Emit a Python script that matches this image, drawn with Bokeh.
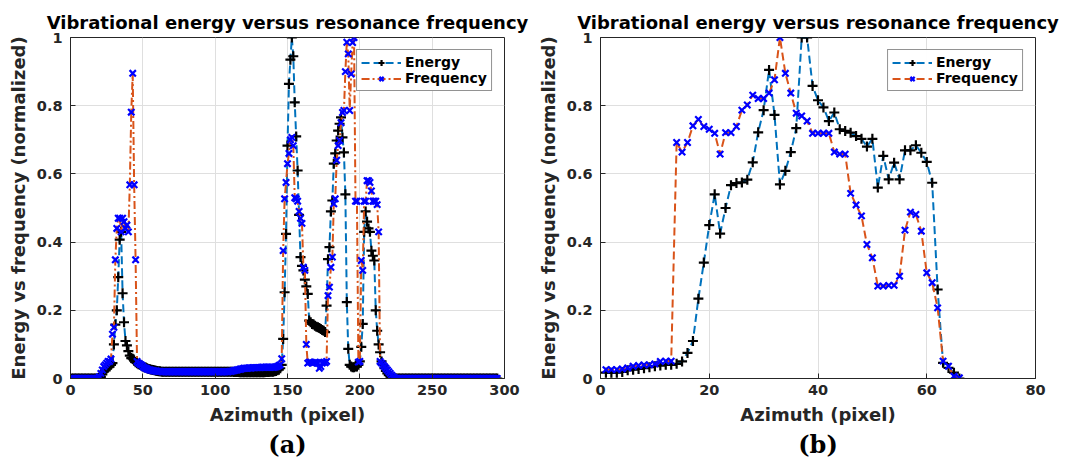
from bokeh.plotting import figure
from bokeh.layouts import row
from bokeh.models import (Legend, LegendItem, FixedTicker, Title, Range1d,
                          CustomJSTickFormatter)
from bokeh.embed import file_html
from bokeh.resources import INLINE

# ---------------- text ----------------
TITLE = "Vibrational energy versus resonance frequency"
XLABEL = "Azimuth (pixel)"
YLABEL = "Energy vs frequency (normalized)"
PANEL_A = "(a)"
PANEL_B = "(b)"
LEGEND_LABELS = ["Energy", "Frequency"]

# ---------------- ticks ----------------
y_ticks = [0, 0.2, 0.4, 0.6, 0.8, 1]
a_x_ticks = [0, 50, 100, 150, 200, 250, 300]
b_x_ticks = [0, 20, 40, 60, 80]
a_x_max = 300
b_x_max = 80

# ---------------- data (a): one value per azimuth pixel 1..295 ----------------
a_energy = [
    0, 0, 0, 0, 0, 0, 0, 0, 0, 0,
    0, 0, 0, 0, 0, 0, 0, 0, 0, 0,
    0.005, 0.012, 0.02, 0.025, 0.03, 0.033, 0.035, 0.04, 0.045, 0.1,
    0.158, 0.2, 0.297, 0.407, 0.43, 0.25, 0.165, 0.11, 0.097, 0.08,
    0.067, 0.06, 0.058, 0.052, 0.048, 0.045, 0.042, 0.04, 0.038, 0.035,
    0.033, 0.032, 0.03, 0.028, 0.027, 0.026, 0.025, 0.024, 0.023, 0.022,
    0.021, 0.021, 0.02, 0.02, 0.02, 0.02, 0.02, 0.02, 0.02, 0.02,
    0.02, 0.02, 0.02, 0.02, 0.02, 0.02, 0.02, 0.02, 0.02, 0.02,
    0.02, 0.02, 0.02, 0.02, 0.02, 0.02, 0.02, 0.02, 0.02, 0.02,
    0.02, 0.02, 0.02, 0.02, 0.02, 0.02, 0.02, 0.02, 0.02, 0.02,
    0.02, 0.02, 0.02, 0.02, 0.02, 0.02, 0.02, 0.02, 0.02, 0.02,
    0.02, 0.02, 0.019, 0.019, 0.019, 0.019, 0.018, 0.018, 0.018, 0.018,
    0.018, 0.018, 0.018, 0.018, 0.018, 0.018, 0.018, 0.018, 0.018, 0.018,
    0.018, 0.018, 0.018, 0.018, 0.019, 0.019, 0.019, 0.02, 0.02, 0.02,
    0.021, 0.022, 0.024, 0.026, 0.03, 0.04, 0.116, 0.253, 0.424, 0.683,
    0.864, 0.935, 1.0, 0.945, 0.81, 0.71, 0.61, 0.48, 0.356, 0.33,
    0.317, 0.29, 0.27, 0.248, 0.17, 0.165, 0.16, 0.158, 0.155, 0.152,
    0.15, 0.148, 0.145, 0.142, 0.14, 0.136, 0.214, 0.35, 0.385, 0.49,
    0.522, 0.63, 0.66, 0.698, 0.727, 0.747, 0.766, 0.707, 0.663, 0.54,
    0.224, 0.087, 0.04, 0.035, 0.033, 0.033, 0.035, 0.035, 0.04, 0.05,
    0.093, 0.16, 0.43, 0.49, 0.46, 0.44, 0.43, 0.375, 0.36, 0.346,
    0.2, 0.14, 0.1, 0.077, 0.05, 0.04, 0.03, 0.022, 0.015, 0.01,
    0.006, 0.003, 0, 0, 0, 0, 0, 0, 0, 0,
    0, 0, 0, 0, 0, 0, 0, 0, 0, 0,
    0, 0, 0, 0, 0, 0, 0, 0, 0, 0,
    0, 0, 0, 0, 0, 0, 0, 0, 0, 0,
    0, 0, 0, 0, 0, 0, 0, 0, 0, 0,
    0, 0, 0, 0, 0, 0, 0, 0, 0, 0,
    0, 0, 0, 0, 0, 0, 0, 0, 0, 0,
    0, 0, 0, 0, 0,
]
a_frequency = [
    0, 0, 0, 0, 0, 0, 0, 0, 0, 0,
    0, 0, 0, 0, 0, 0, 0, 0, 0, 0.005,
    0.015, 0.025, 0.035, 0.04, 0.045, 0.05, 0.05, 0.057, 0.13, 0.15,
    0.348, 0.44, 0.47, 0.47, 0.43, 0.47, 0.46, 0.44, 0.45, 0.43,
    0.568, 0.781, 0.895, 0.568, 0.348, 0.05, 0.045, 0.042, 0.04, 0.035,
    0.032, 0.03, 0.028, 0.026, 0.025, 0.024, 0.023, 0.022, 0.022, 0.021,
    0.021, 0.021, 0.02, 0.02, 0.02, 0.02, 0.02, 0.02, 0.02, 0.02,
    0.02, 0.02, 0.02, 0.02, 0.02, 0.02, 0.02, 0.02, 0.02, 0.02,
    0.02, 0.02, 0.02, 0.02, 0.02, 0.02, 0.02, 0.02, 0.02, 0.02,
    0.02, 0.02, 0.02, 0.02, 0.02, 0.02, 0.02, 0.02, 0.02, 0.02,
    0.02, 0.02, 0.02, 0.02, 0.02, 0.02, 0.02, 0.02, 0.02, 0.021,
    0.021, 0.022, 0.023, 0.024, 0.025, 0.026, 0.027, 0.028, 0.029, 0.03,
    0.03, 0.03, 0.031, 0.031, 0.031, 0.032, 0.032, 0.032, 0.032, 0.032,
    0.032, 0.033, 0.033, 0.033, 0.033, 0.033, 0.033, 0.033, 0.033, 0.033,
    0.033, 0.034, 0.035, 0.038, 0.04, 0.058, 0.375, 0.527, 0.575, 0.63,
    0.66, 0.7, 0.707, 0.683, 0.53, 0.527, 0.52, 0.49, 0.47, 0.455,
    0.326, 0.317, 0.1, 0.045, 0.048, 0.048, 0.045, 0.046, 0.048, 0.047,
    0.045, 0.03, 0.035, 0.045, 0.048, 0.046, 0.05, 0.243, 0.268, 0.326,
    0.356, 0.512, 0.527, 0.64, 0.683, 0.698, 0.75, 0.78, 0.786, 0.9,
    0.986, 0.952, 0.786, 0.893, 0.985, 1.0, 0.52, 0.52, 0.048, 0.05,
    0.346, 0.317, 0.52, 0.52, 0.58, 0.58, 0.575, 0.55, 0.52, 0.52,
    0.52, 0.51, 0.43, 0.05, 0.045, 0.04, 0.035, 0.03, 0.025, 0.02,
    0.015, 0.01, 0.005, 0.002, 0, 0, 0, 0, 0, 0,
    0, 0, 0, 0, 0, 0, 0, 0, 0, 0,
    0, 0, 0, 0, 0, 0, 0, 0, 0, 0,
    0, 0, 0, 0, 0, 0, 0, 0, 0, 0,
    0, 0, 0, 0, 0, 0, 0, 0, 0, 0,
    0, 0, 0, 0, 0, 0, 0, 0, 0, 0,
    0, 0, 0, 0, 0, 0, 0, 0, 0, 0,
    0, 0, 0, 0, 0,
]

# ---------------- data (b): one value per azimuth pixel 1..66 ----------------
b_energy = [
    0.017, 0.017, 0.017, 0.019, 0.024, 0.026, 0.028, 0.03, 0.033, 0.036,
    0.038, 0.04, 0.04, 0.043, 0.05, 0.075, 0.11, 0.234, 0.34, 0.45,
    0.54, 0.425, 0.50, 0.567, 0.573, 0.575, 0.583, 0.634, 0.722, 0.787,
    0.905, 0.773, 0.569, 0.609, 0.664, 0.734, 1.0, 1.0, 0.858, 0.816,
    0.795, 0.755, 0.780, 0.731, 0.726, 0.721, 0.711, 0.703, 0.68, 0.703,
    0.56, 0.653, 0.584, 0.633, 0.584, 0.669, 0.669, 0.684, 0.662, 0.635,
    0.574, 0.261, 0.046, 0.031, 0.017, 0.0,
]
b_frequency = [
    0.026, 0.026, 0.026, 0.028, 0.031, 0.036, 0.038, 0.04, 0.04, 0.043,
    0.05, 0.051, 0.051, 0.692, 0.664, 0.692, 0.741, 0.760, 0.739, 0.731,
    0.719, 0.658, 0.721, 0.721, 0.739, 0.787, 0.802, 0.831, 0.821, 0.821,
    0.837, 0.876, 1.0, 0.895, 0.837, 0.778, 0.770, 0.755, 0.719, 0.719,
    0.719, 0.719, 0.664, 0.658, 0.658, 0.543, 0.509, 0.477, 0.393, 0.354,
    0.271, 0.271, 0.273, 0.273, 0.300, 0.435, 0.488, 0.481, 0.432, 0.310,
    0.281, 0.207, 0.051, 0.036, 0.007, 0.002,
]

# ---------------- style ----------------
E_LINE = "#0072BD"
F_LINE = "#D95319"
E_MARK = "#000000"
F_MARK = "#0000FF"
AX = "#262626"
FONT = "DejaVu Sans"


def build(energy, freq, x_max, x_ticks, tag, f_dash, width, b_left, b_right):
    p = figure(width=width, height=462, x_range=Range1d(0, x_max),
               y_range=Range1d(0, 1), output_backend="svg",
               toolbar_location=None, min_border_left=b_left,
               min_border_right=b_right, min_border_top=37,
               min_border_bottom=84, title=TITLE)
    p.title.align = "center"
    p.title.text_font = FONT
    p.title.text_font_size = "18px"
    p.title.text_font_style = "bold"
    p.title.text_color = "black"

    xe = list(range(1, len(energy) + 1))
    xf = list(range(1, len(freq) + 1))
    el = p.line(xe, energy, line_color=E_LINE, line_width=2, line_dash="8 4")
    em = p.scatter(xe, energy, marker="cross", size=10, line_width=2.2,
                   line_color=E_MARK)
    fl = p.line(xf, freq, line_color=F_LINE, line_width=2, line_dash=f_dash)
    fm = p.scatter(xf, freq, marker="x", size=9, line_width=2.2,
                   line_color=F_MARK)

    p.xaxis.ticker = FixedTicker(ticks=x_ticks)
    p.yaxis.ticker = FixedTicker(ticks=y_ticks)
    p.yaxis.formatter = CustomJSTickFormatter(
        code="return String(Math.round(tick*10)/10);")
    p.xaxis.axis_label = XLABEL
    p.yaxis.axis_label = YLABEL
    for ax in (p.xaxis[0], p.yaxis[0]):
        ax.axis_line_color = AX
        ax.major_tick_line_color = AX
        ax.major_tick_in = 5
        ax.major_tick_out = 0
        ax.minor_tick_line_color = None
        ax.major_label_text_font = FONT
        ax.major_label_text_font_style = "bold"
        ax.major_label_text_font_size = "14.5px"
        ax.major_label_text_color = AX
        ax.axis_label_text_font = FONT
        ax.axis_label_text_font_style = "bold"
        ax.axis_label_text_font_size = "18px"
        ax.axis_label_text_color = AX
    p.xaxis.major_label_standoff = 6
    p.xaxis.axis_label_standoff = 6
    p.yaxis.major_label_standoff = 8
    p.yaxis.axis_label_standoff = 5

    p.grid.grid_line_color = "#dfdfdf"
    p.outline_line_color = AX
    p.outline_line_alpha = 1
    p.background_fill_color = "white"
    p.border_fill_color = "white"

    legend = Legend(items=[LegendItem(label=LEGEND_LABELS[0], renderers=[el, em]),
                           LegendItem(label=LEGEND_LABELS[1], renderers=[fl, fm])],
                    location="top_right")
    legend.border_line_color = AX
    legend.border_line_width = 1
    legend.label_text_font = FONT
    legend.label_text_font_style = "bold"
    legend.label_text_font_size = "14px"
    legend.label_text_color = "black"
    legend.glyph_width = 40
    legend.glyph_height = 15
    legend.label_height = 15
    legend.label_standoff = 4
    legend.spacing = 0
    legend.padding = 4
    legend.margin = 12
    p.add_layout(legend)

    p.add_layout(Title(text=tag, align="center", text_font="DejaVu Serif",
                       text_font_size="24px", text_font_style="bold",
                       text_color="black", standoff=0, offset=0), "below")
    return p


pa = build(a_energy, a_frequency, a_x_max, a_x_ticks, PANEL_A, "8 3 2 3",
           533, 70, 29)
pb = build(b_energy, b_frequency, b_x_max, b_x_ticks, PANEL_B, "8 4",
           534, 67, 32)

layout = row(pa, pb)
open("out.html", "w").write(file_html(layout, INLINE))
